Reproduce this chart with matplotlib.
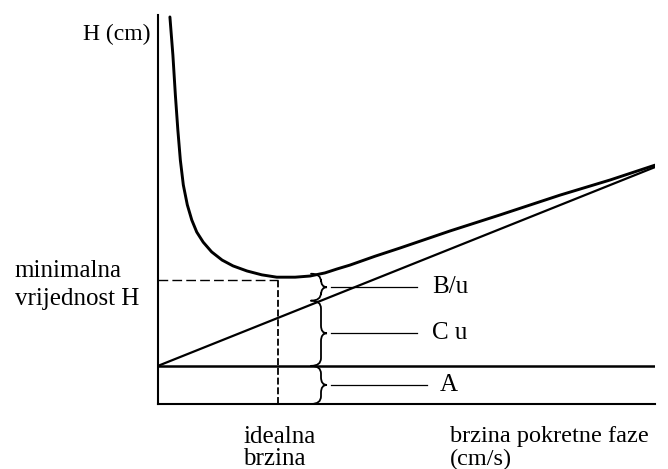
"""
Van Deemter krivulja: H = A + B/u + C u
"""
import numpy as np
import matplotlib
matplotlib.use("Agg")
import matplotlib.pyplot as plt
from matplotlib.path import Path
from matplotlib.patches import PathPatch

plt.rcParams["font.family"] = ["Liberation Serif", "DejaVu Serif"]
plt.rcParams["lines.scale_dashes"] = False

# ── podaci očitani sa slike ─────────────────────────────
# ukupna visina H (gornja krivulja)
curve_u = [0.24, 0.30, 0.35, 0.40, 0.45, 0.51, 0.59, 0.68, 0.78, 0.91,
           1.08, 1.29, 1.51, 1.79, 2.09, 2.39, 2.76, 3.06, 3.36, 3.60,
           3.86, 4.37, 4.87, 5.88, 6.88, 8.09, 9.10, 10.0]
curve_h = [9.95, 8.97, 7.94, 7.04, 6.27, 5.63, 5.12, 4.73, 4.42, 4.16,
           3.91, 3.70, 3.55, 3.42, 3.32, 3.26, 3.26, 3.29, 3.37, 3.47,
           3.57, 3.80, 4.01, 4.45, 4.86, 5.37, 5.76, 6.14]

# A član (konstanta) i A + C u (pravac)
a_term = 0.98
cu_u = [0.0, 10.0]
cu_h = [0.98, 6.09]

# minimum krivulje
opt_u = 2.41
opt_h = 3.19

brace_u = 3.28          # gdje stoje vitičaste zagrade
labels = ["B/u", "C u", "A"]


def draw_brace(ax, x0, y_top, y_bot, end=0.20, tip=0.12, r=0.20):
    """Vitičasta zagrada '}' između y_top i y_bot."""
    ym = (y_top + y_bot) / 2
    xe, xt = x0 - end, x0 + tip
    verts = [(xe, y_top), (x0, y_top), (x0, y_top - r),
             (x0, ym + r),
             (x0, ym), (xt, ym),
             (x0, ym), (x0, ym - r),
             (x0, y_bot + r),
             (x0, y_bot), (xe, y_bot)]
    codes = [Path.MOVETO, Path.CURVE3, Path.CURVE3,
             Path.LINETO,
             Path.CURVE3, Path.CURVE3,
             Path.CURVE3, Path.CURVE3,
             Path.LINETO,
             Path.CURVE3, Path.CURVE3]
    ax.add_patch(PathPatch(Path(verts, codes), fill=False,
                           lw=1.3, edgecolor="black", capstyle="round"))
    return ym


fig = plt.figure(figsize=(6.68, 4.69), dpi=100)
ax = fig.add_axes([0.2365, 0.1386, 0.744, 0.8294])
ax.set_xlim(0, 10)
ax.set_ylim(0, 10)
for side in ("top", "right"):
    ax.spines[side].set_visible(False)
for side in ("left", "bottom"):
    ax.spines[side].set_linewidth(1.5)
ax.set_xticks([])
ax.set_yticks([])

# ── krivulje ────────────────────────────────────────────
ax.plot(curve_u, curve_h, color="black", lw=2.1,
        solid_joinstyle="round", solid_capstyle="round")
ax.plot(cu_u, cu_h, color="black", lw=1.6)
ax.axhline(a_term, color="black", lw=1.8)

# minimum: isprekidane linije
ax.plot([0, opt_u], [opt_h, opt_h], color="black", lw=1.0,
        linestyle=(0, (7, 3)))
ax.plot([opt_u, opt_u], [0, opt_h], color="black", lw=1.3,
        linestyle=(0, (5, 2)))

# ── zagrade i oznake ────────────────────────────────────
h_curve = np.interp(brace_u, curve_u, curve_h)
h_cu = np.interp(brace_u, cu_u, cu_h)
spans = [(h_curve, h_cu), (h_cu, a_term), (a_term, 0.0)]
lead_end = [5.21, 5.21, 5.41]
label_x = [5.51, 5.51, 5.67]
for (top, bot), lab, xe, xl in zip(spans, labels, lead_end, label_x):
    ym = draw_brace(ax, brace_u, top, bot)
    ax.plot([brace_u + 0.20, xe], [ym, ym], color="black", lw=0.9)
    ax.text(xl, ym, lab, fontsize=18, va="center", ha="left")

# ── tekst izvan osi ─────────────────────────────────────
ax.text(-0.16, 9.36, "H (cm)", fontsize=17, ha="right", va="baseline",
        clip_on=False)
ax.text(-2.88, 3.26, "minimalna", fontsize=18, ha="left", va="baseline",
        clip_on=False)
ax.text(-2.88, 2.55, "vrijednost H", fontsize=18, ha="left", va="baseline",
        clip_on=False)
ax.text(1.71, -1.0, "idealna", fontsize=18, ha="left", va="baseline",
        clip_on=False)
ax.text(1.71, -1.58, "brzina", fontsize=18, ha="left", va="baseline",
        clip_on=False)
ax.text(5.88, -0.98, "brzina pokretne faze", fontsize=17.5, ha="left",
        va="baseline", clip_on=False)
ax.text(5.88, -1.56, "(cm/s)", fontsize=17.5, ha="left", va="baseline",
        clip_on=False)

fig.savefig("out.png", dpi=100)
plt.close(fig)
